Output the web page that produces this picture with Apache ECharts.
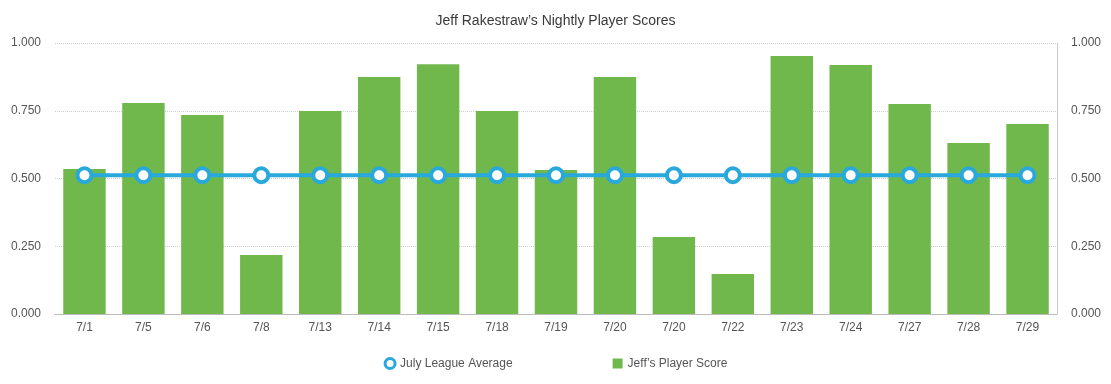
<!DOCTYPE html>
<html>
<head>
<meta charset="utf-8">
<script src="https://cdn.jsdelivr.net/npm/echarts@6/dist/echarts.min.js"></script>
<style>html,body{margin:0;padding:0;background:#fff}#c{width:1111px;height:384px}</style>
</head>
<body>
<div id="c"></div>
<script>
const categories = ['7/1','7/5','7/6','7/8','7/13','7/14','7/15','7/18','7/19','7/20','7/20','7/22','7/23','7/24','7/27','7/28','7/29'];
const playerScores = [0.535,0.779,0.734,0.218,0.749,0.875,0.922,0.749,0.531,0.875,0.284,0.148,0.952,0.919,0.775,0.631,0.701];
const leagueAverage = [0.512,0.512,0.512,0.512,0.512,0.512,0.512,0.512,0.512,0.512,0.512,0.512,0.512,0.512,0.512,0.512,0.512];
const yTicks = { min: 0, max: 1, interval: 0.25 };

const font = '"Liberation Sans", Arial, Helvetica, sans-serif';
const chart = echarts.init(document.getElementById('c'), null, { renderer: 'canvas' });
const axisLabel = { color: '#555', fontSize: 12, fontFamily: font, formatter: v => v.toFixed(3) };
chart.setOption({
  animation: false,
  title: {
    text: 'Jeff Rakestraw\u2019s Nightly Player Scores',
    left: 'center', top: 9,
    textStyle: { color: '#3a3a3a', fontSize: 14, fontWeight: 'normal', fontFamily: font }
  },
  legend: {
    bottom: 9, left: 'center', itemGap: 100, itemWidth: 10, itemHeight: 10,
    textStyle: { color: '#555', fontSize: 12, fontFamily: font },
    data: [
      { name: 'July League Average', icon: 'circle', itemStyle: { color: '#fff', borderColor: '#29a8dc', borderWidth: 3 } },
      { name: 'Jeff\u2019s Player Score', icon: 'rect' }
    ]
  },
  grid: { left: 55, right: 54, top: 43, bottom: 70 },
  xAxis: {
    type: 'category', data: categories,
    axisLine: { lineStyle: { color: '#bbb' } },
    axisTick: { show: false },
    axisLabel: { color: '#555', fontSize: 12, fontFamily: font, margin: 8 }
  },
  yAxis: [
    {
      type: 'value', min: yTicks.min, max: yTicks.max, interval: yTicks.interval,
      axisLine: { show: false }, axisTick: { show: false },
      splitLine: { lineStyle: { color: '#d0d0d0', type: 'dotted' } },
      axisLabel: Object.assign({ margin: 14 }, axisLabel)
    },
    {
      type: 'value', min: yTicks.min, max: yTicks.max, interval: yTicks.interval, position: 'right',
      axisLine: { show: true, lineStyle: { color: '#ccc' } }, axisTick: { show: false },
      splitLine: { show: false },
      axisLabel: Object.assign({ margin: 14 }, axisLabel)
    }
  ],
  series: [
    {
      name: 'Jeff\u2019s Player Score', type: 'bar', data: playerScores,
      barCategoryGap: '28%',
      itemStyle: { color: '#70b84c' }, z: 2
    },
    {
      name: 'July League Average', type: 'line', data: leagueAverage,
      symbol: 'circle', symbolSize: 14,
      lineStyle: { color: '#29a8dc', width: 4 },
      itemStyle: { color: '#fff', borderColor: '#29a8dc', borderWidth: 4 },
      z: 3
    }
  ]
});
</script>
</body>
</html>
